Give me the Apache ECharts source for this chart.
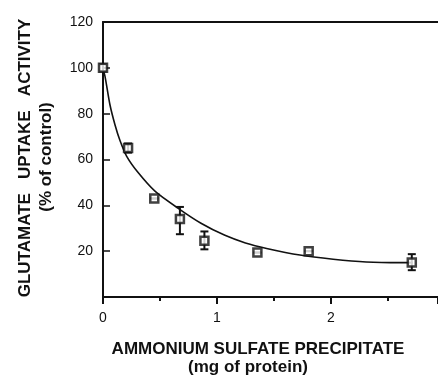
<!DOCTYPE html>
<html>
<head>
<meta charset="utf-8">
<script src="https://cdn.jsdelivr.net/npm/echarts@6/dist/echarts.min.js"></script>
<style>
  html, body { margin: 0; padding: 0; background: #fff; }
  #chart { width: 438px; height: 377px; }
</style>
</head>
<body>
<div id="chart"></div>
<script>
// measured points (mg protein vs % of control)
const doseX = [0, 0.22, 0.45, 0.675, 0.89, 1.355, 1.805, 2.71]
const activity = [100, 65, 43, 34, 24.5, 19.4, 20, 15.1]
const errLow = [98.5, 63, 43, 27.4, 20.8, 19.4, 20, 11.7]
const errHigh = [101.5, 67, 43, 39.3, 28.6, 19.4, 20, 18.7]

// fitted curve
const fitX = [0, 0.018, 0.061, 0.105, 0.149, 0.208, 0.31, 0.456, 0.66, 0.86, 1.07, 1.25, 1.436, 1.728, 2.02, 2.31, 2.61, 2.72]
const fitY = [99.5, 96.2, 83.9, 75.2, 68.3, 61.4, 54.2, 46.2, 38.7, 32.2, 26.9, 23.6, 21.2, 18.3, 16.5, 15.3, 15.0, 15.0]

const yTicks = [0, 20, 40, 60, 80, 100, 120]
const xTicks = [0, 1, 2]

const font = "'Liberation Sans', Arial, Helvetica, sans-serif"
const ink = '#111'

const chart = echarts.init(document.getElementById('chart'))

chart.setOption({
    animation: false,
    grid: { left: 103, right: 0, top: 22, bottom: 80 },
    xAxis: [
        {
            type: 'value',
            min: 0,
            max: 2.94,
            interval: 1,
            axisLine: { lineStyle: { color: ink, width: 2 } },
            axisTick: { inside: false, length: 7, lineStyle: { color: ink, width: 2 } },
            minorTick: { show: true, splitNumber: 2, length: 4, lineStyle: { color: ink, width: 2 } },
            splitLine: { show: false },
            axisLabel: {
                color: ink, fontSize: 14, fontFamily: font, margin: 14,
                showMaxLabel: false,
                formatter: v => (xTicks.includes(v) ? String(v) : '')
            }
        },
        {
            type: 'value',
            position: 'top',
            min: 0,
            max: 2.94,
            axisLine: { onZero: false, lineStyle: { color: ink, width: 2 } },
            axisTick: { show: false },
            axisLabel: { show: false },
            splitLine: { show: false }
        }
    ],
    yAxis: {
        type: 'value',
        min: 0,
        max: 120,
        interval: 20,
        axisLine: { show: true, lineStyle: { color: ink, width: 2 } },
        axisTick: { show: true, inside: true, length: 7, lineStyle: { color: ink, width: 1.5 } },
        splitLine: { show: false },
        axisLabel: {
            color: ink, fontSize: 14, fontFamily: font, margin: 10,
            formatter: v => (v === 0 || !yTicks.includes(v) ? '' : String(v))
        }
    },
    graphic: [
        {
            type: 'text', x: 25, y: 158, rotation: Math.PI / 2,
            style: {
                text: 'GLUTAMATE   UPTAKE   ACTIVITY', fill: ink,
                font: 'bold 17px ' + font, align: 'center', verticalAlign: 'middle'
            }
        },
        {
            type: 'text', x: 46, y: 157, rotation: Math.PI / 2,
            style: {
                text: '(% of control)', fill: ink,
                font: 'bold 17px ' + font, align: 'center', verticalAlign: 'middle'
            }
        },
        {
            type: 'text', x: 258, y: 349,
            style: {
                text: 'AMMONIUM SULFATE PRECIPITATE', fill: ink,
                font: 'bold 17px ' + font, align: 'center', verticalAlign: 'middle'
            }
        },
        {
            type: 'text', x: 248, y: 367,
            style: {
                text: '(mg of protein)', fill: ink,
                font: 'bold 17px ' + font, align: 'center', verticalAlign: 'middle'
            }
        }
    ],
    series: [
        {
            type: 'line',
            data: fitX.map((x, i) => [x, fitY[i]]),
            smooth: 0.25,
            showSymbol: false,
            lineStyle: { color: ink, width: 1.6 },
            z: 2
        },
        {
            type: 'custom',
            data: doseX.map((x, i) => [x, errLow[i], errHigh[i]]),
            renderItem: (params, api) => {
                const lo = api.coord([api.value(0), api.value(1)])
                const hi = api.coord([api.value(0), api.value(2)])
                const cap = 4
                const style = { stroke: ink, lineWidth: 2 }
                return {
                    type: 'group',
                    children: [
                        { type: 'line', shape: { x1: lo[0], y1: lo[1], x2: hi[0], y2: hi[1] }, style },
                        { type: 'line', shape: { x1: lo[0] - cap, y1: lo[1], x2: lo[0] + cap, y2: lo[1] }, style },
                        { type: 'line', shape: { x1: hi[0] - cap, y1: hi[1], x2: hi[0] + cap, y2: hi[1] }, style }
                    ]
                }
            },
            z: 3
        },
        {
            type: 'scatter',
            data: doseX.map((x, i) => [x, activity[i]]),
            symbol: 'rect',
            symbolSize: 8,
            itemStyle: { color: '#fff', borderColor: ink, borderWidth: 2.5 },
            z: 4
        }
    ]
})
</script>
</body>
</html>
